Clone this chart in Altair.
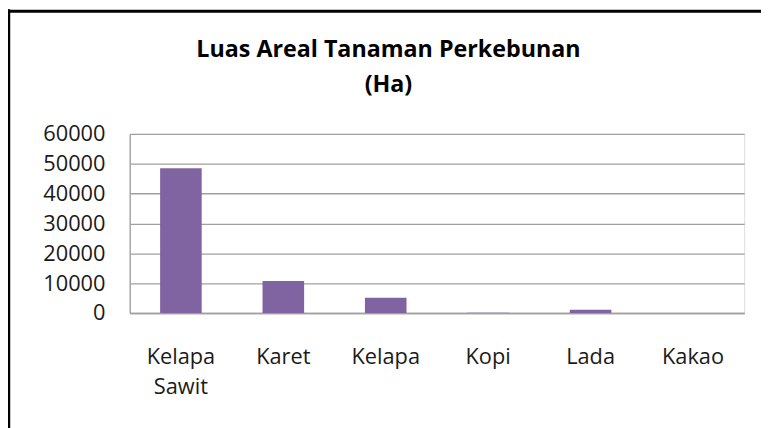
import altair as alt
import pandas as pd

categories = ["Kelapa Sawit", "Karet", "Kelapa", "Kopi", "Lada", "Kakao"]
luas_ha = [48500, 10700, 5100, 60, 1100, 30]
y_ticks = [0, 10000, 20000, 30000, 40000, 50000, 60000]

df = pd.DataFrame({"Tanaman": categories, "Luas": luas_ha})

FONT = "Open Sans"

bars = alt.Chart(df).mark_bar(color="#8064A2").encode(
    x=alt.X(
        "Tanaman:N",
        sort=categories,
        scale=alt.Scale(paddingInner=0.594, paddingOuter=0.297),
        axis=alt.Axis(
            title=None,
            labelAngle=0,
            labelExpr="split(datum.label, ' ')",
            labelLineHeight=30,
            labelFontSize=22,
            labelFont=FONT,
            labelColor="#1a1a1a",
            labelPadding=34,
            labelBaseline="top",
            ticks=False,
            domainColor="#a0a0a0",
            domainWidth=1.3,
            grid=False,
        ),
    ),
    y=alt.Y(
        "Luas:Q",
        scale=alt.Scale(domain=[0, 60000], nice=False),
        axis=alt.Axis(
            title=None,
            values=y_ticks,
            format="d",
            labelFontSize=22,
            labelFont=FONT,
            labelColor="#1a1a1a",
            labelPadding=25,
            ticks=False,
            domainColor="#a0a0a0",
            domainWidth=1.3,
            gridColor="#a0a0a0",
            gridWidth=1.3,
        ),
    ),
)

frame_top = alt.Chart(alt.Data(values=[{}])).mark_rule(color="black", strokeWidth=3).encode(
    x=alt.value(-125), x2=alt.value(720), y=alt.value(-124)
)
frame_left = alt.Chart(alt.Data(values=[{}])).mark_rule(color="black", strokeWidth=2.5).encode(
    x=alt.value(-122), y=alt.value(-126), y2=alt.value(420)
)

chart = alt.layer(bars, frame_top, frame_left).properties(
    width=621,
    height=181,
    autosize=alt.AutoSizeParams(type="none"),
    padding={"left": 123, "top": 125, "right": 17, "bottom": 114},
    title=alt.TitleParams(
        text=["Luas Areal Tanaman Perkebunan", "(Ha)"],
        anchor="middle",
        frame="group",
        dx=-49,
        offset=-89.5,
        fontSize=23.5,
        font=FONT,
        fontWeight="bold",
        color="black",
        lineHeight=35,
    ),
).configure_view(stroke=None).configure(background="white")

chart.save("out.html", embed_options={"renderer": "svg", "actions": False})
